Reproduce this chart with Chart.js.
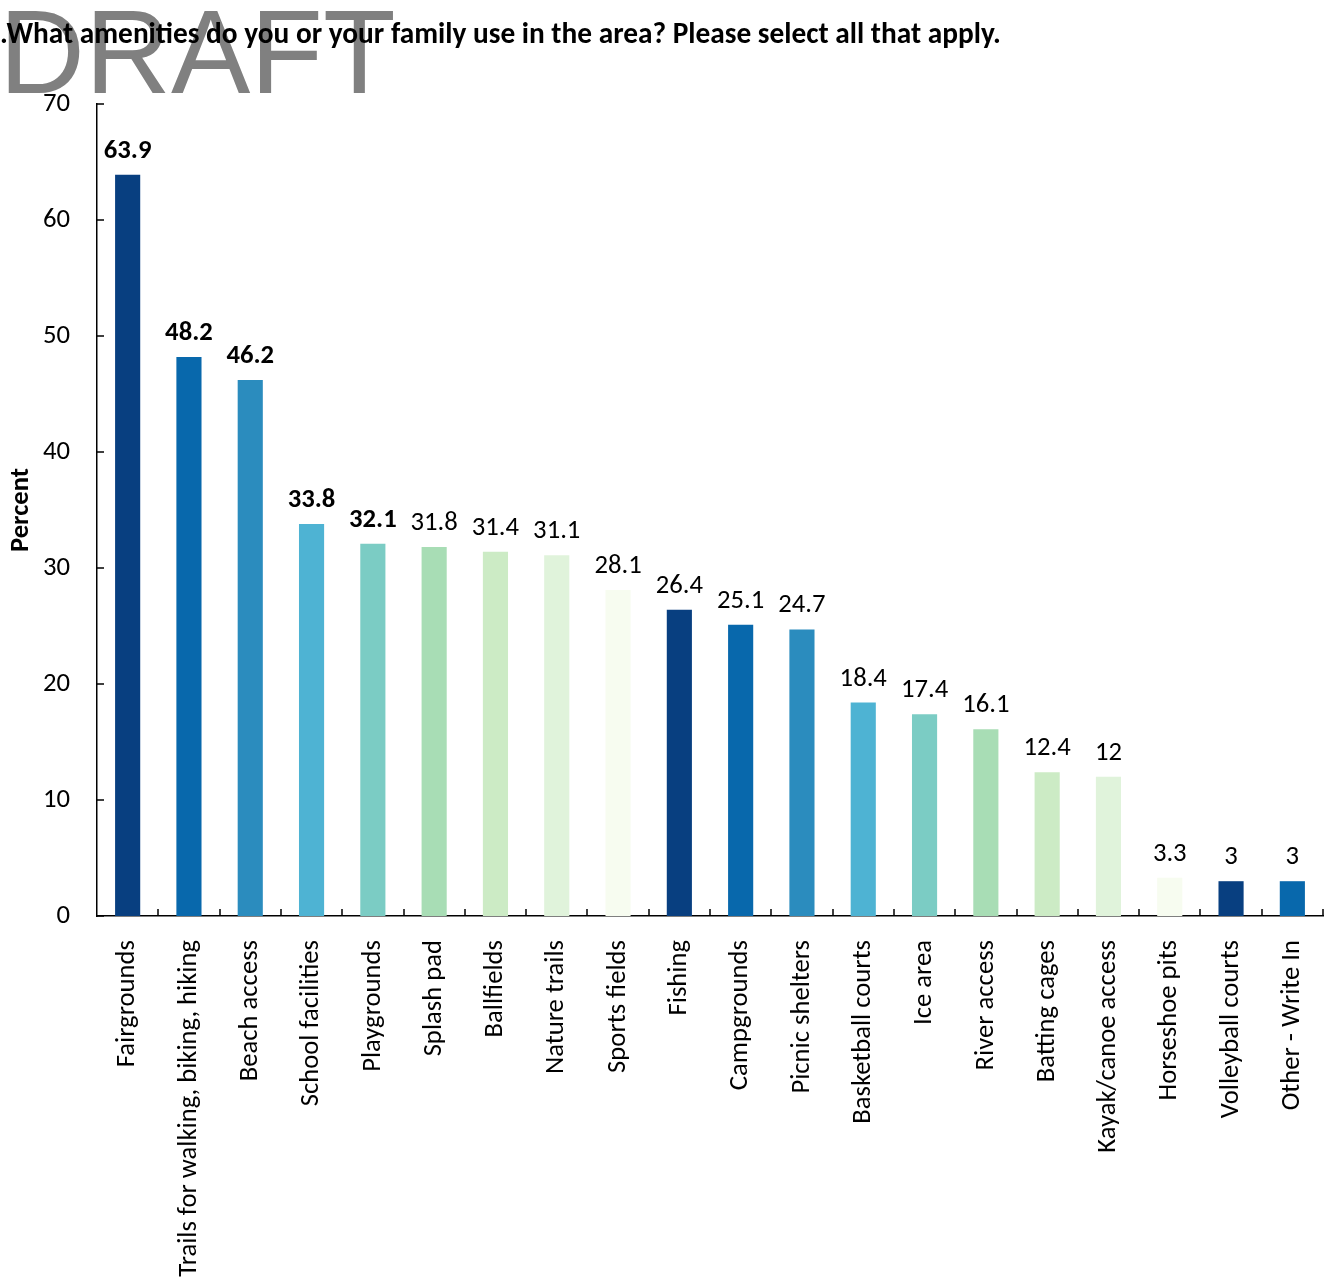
<!DOCTYPE html>
<html><head><meta charset="utf-8">
<script src="https://cdn.jsdelivr.net/npm/chart.js@4.4.0/dist/chart.umd.min.js"></script>
<style>html,body{margin:0;padding:0;background:#fff;}</style>
</head><body>
<canvas id="c" width="1335" height="1281"></canvas>
<script>
const titleText = ".What amenities do you or your family use in the area? Please select all that apply.";
const watermark = "DRAFT";
const categories = ["Fairgrounds","Trails for walking, biking, hiking","Beach access","School facilities","Playgrounds","Splash pad","Ballfields","Nature trails","Sports fields","Fishing","Campgrounds","Picnic shelters","Basketball courts","Ice area","River access","Batting cages","Kayak/canoe access","Horseshoe pits","Volleyball courts","Other - Write In"];
const values = [63.9,48.2,46.2,33.8,32.1,31.8,31.4,31.1,28.1,26.4,25.1,24.7,18.4,17.4,16.1,12.4,12,3.3,3,3];
const yTicks = [0,10,20,30,40,50,60,70];
const palette = ['#083f80','#0868ac','#2b8cbe','#4eb3d3','#7bccc4','#a8ddb5','#ccebc5','#e0f3db','#f7fcf0'];
const BOLD_FIRST_N = 5;
const FONT = "Carlito, Calibri, 'Open Sans', sans-serif";
const FS = 26.67;

const decor = {
  id: 'decor',
  beforeDraw(chart) {
    const ctx = chart.ctx;
    ctx.save();
    ctx.fillStyle = '#fff';
    ctx.fillRect(0,0,chart.width,chart.height);
    ctx.fillStyle = '#808080';
    ctx.font = '119px "Liberation Sans", Arial, sans-serif';
    ctx.textBaseline = 'alphabetic';
    ctx.textAlign = 'left';
    ctx.fillText(watermark, -1, 93);
    ctx.fillStyle = '#000';
    ctx.font = 'bold 29.33px ' + FONT;
    ctx.fillText(titleText, 0, 43);
    ctx.restore();
  },
  afterDraw(chart) {
    const ctx = chart.ctx;
    const xs = chart.scales.x, ys = chart.scales.y;
    const area = chart.chartArea;
    ctx.save();
    ctx.strokeStyle = '#000';
    ctx.lineWidth = 1.5;
    ctx.beginPath();
    ys.ticks.forEach(t => {
      const y = Math.round(ys.getPixelForValue(t.value));
      ctx.moveTo(area.left, y); ctx.lineTo(area.left + 7, y);
    });
    const n = categories.length;
    for (let i = 1; i <= n; i++) {
      const x = i < n ? (xs.getPixelForValue(i-1) + xs.getPixelForValue(i)) / 2 : area.right;
      ctx.moveTo(Math.round(x), area.bottom); ctx.lineTo(Math.round(x), area.bottom - 7);
    }
    ctx.stroke();
    const meta = chart.getDatasetMeta(0);
    ctx.fillStyle = '#000';
    ctx.textAlign = 'center';
    ctx.textBaseline = 'alphabetic';
    meta.data.forEach((bar, i) => {
      ctx.font = (i < BOLD_FIRST_N ? 'bold ' : '') + FS + 'px ' + FONT;
      ctx.fillText(String(values[i]), bar.x, bar.y - 17);
    });
    ctx.restore();
  }
};

new Chart(document.getElementById('c'), {
  type: 'bar',
  data: {
    labels: categories,
    datasets: [{
      data: values,
      backgroundColor: values.map((v,i) => palette[i % palette.length]),
      borderWidth: 0,
      barPercentage: 0.82,
      categoryPercentage: 0.5
    }]
  },
  options: {
    responsive: false,
    animation: false,
    layout: { padding: { left: 0, right: 12, top: 104, bottom: 0 } },
    plugins: { legend: { display: false }, tooltip: { enabled: false }, title: { display: false } },
    scales: {
      x: {
        grid: { display: false, drawTicks: false },
        border: { display: true, color: '#000', width: 1.5 },
        ticks: { color: '#000', font: { family: FONT, size: FS }, minRotation: 90, maxRotation: 90, padding: 24, autoSkip: false },
        afterFit(s) { s.height = 365; s.paddingLeft = 0; s.paddingRight = 0; }
      },
      y: {
        min: 0, max: 70,
        afterBuildTicks(s) { s.ticks = yTicks.map(v => ({ value: v })); },
        grid: { display: false, drawTicks: false },
        border: { display: true, color: '#000', width: 1.5 },
        ticks: { color: '#000', font: { family: FONT, size: FS }, padding: 27 },
        title: { display: true, text: 'Percent', color: '#000', font: { family: FONT, size: FS, weight: 'bold' }, padding: { top: 5, bottom: 0 } },
        afterFit(s) { s.width = 97; s.paddingTop = 0; s.paddingBottom = 0; }
      }
    }
  },
  plugins: [decor]
});
</script>
</body></html>
